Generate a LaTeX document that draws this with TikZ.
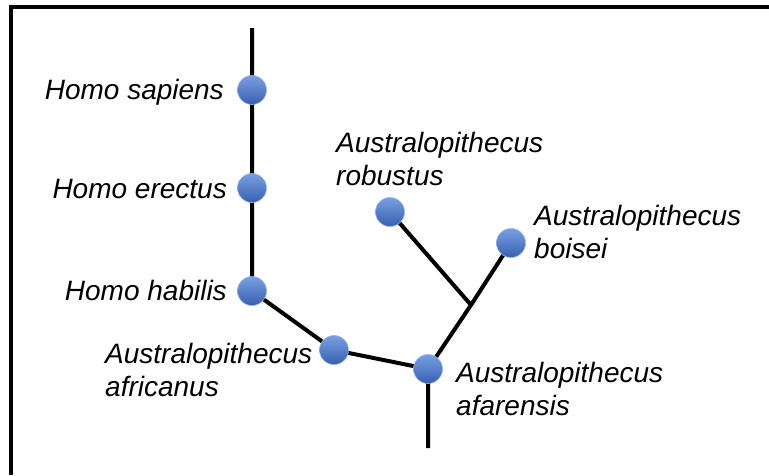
\documentclass[tikz,border=0pt]{standalone}
\usepackage{fontspec}
\setmainfont{Liberation Sans}
\begin{document}
\begin{tikzpicture}[x=1pt,y=-1pt,
  branch/.style={line width=4pt,line cap=butt},
  species/.style={circle,minimum size=29pt,inner sep=0pt,
    top color=nodetop,bottom color=nodebottom,draw=nodeedge,line width=0.6pt},
  lbl/.style={font=\fontsize{28}{33}\selectfont\itshape,inner sep=0pt,text=black},
  lblL/.style={lbl,align=left}]
\definecolor{nodetop}{HTML}{7A9FE0}
\definecolor{nodebottom}{HTML}{3860B0}
\definecolor{nodeedge}{HTML}{9CB4E4}
\useasboundingbox (0,0) rectangle (769,475);
% partial frame: top and left edges
\draw[line width=4pt] (11,475) -- (11,7) -- (769,7);

% branch points and free ends
\coordinate (top) at (252,28);
\coordinate (bottom) at (428,448);
\coordinate (fork) at (471,305);

% species positions
\coordinate (pSap) at (252,90);
\coordinate (pEre) at (252,188);
\coordinate (pHab) at (252,291);
\coordinate (pAfr) at (334,350);
\coordinate (pAfa) at (428,369);
\coordinate (pRob) at (390,212);
\coordinate (pBoi) at (511,243);

% lineage lines
\draw[branch] (top) -- (pSap) -- (pEre) -- (pHab) -- (pAfr) -- (pAfa) -- (bottom);
\draw[branch] (pAfa) -- (fork) -- (pBoi);
\draw[branch] (fork) -- (pRob);

% species dots
\node[species] (sap) at (pSap) {};
\node[species] (ere) at (pEre) {};
\node[species] (hab) at (pHab) {};
\node[species] (afr) at (pAfr) {};
\node[species] (afa) at (pAfa) {};
\node[species] (rob) at (pRob) {};
\node[species] (boi) at (pBoi) {};

% labels
\node[lbl,anchor=base east] (tSap) at (224,99) {Homo sapiens};
\node[lbl,anchor=base east] (tEre) at (227,198) {Homo erectus};
\node[lbl,anchor=base east] (tHab) at (227,300) {Homo habilis};
\node[lblL,anchor=north west] (tAfr) at (105,343) {Australopithecus\\africanus};
\node[lblL,anchor=north west] (tAfa) at (456,362) {Australopithecus\\afarensis};
\node[lblL,anchor=north west] (tRob) at (336,132) {Australopithecus\\robustus};
\node[lblL,anchor=north west] (tBoi) at (534,205) {Australopithecus\\boisei};
\end{tikzpicture}
\end{document}
